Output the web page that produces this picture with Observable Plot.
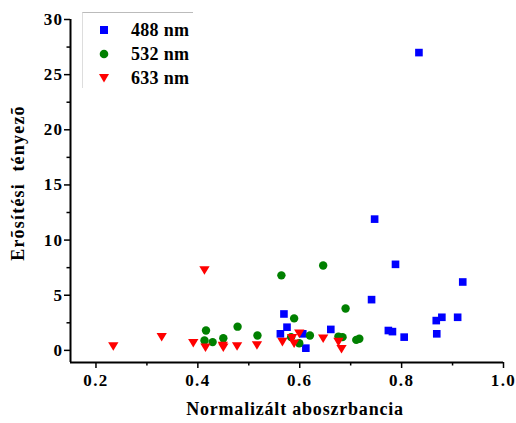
<!DOCTYPE html>
<html>
<head>
<meta charset="utf-8">
<script src="https://cdn.jsdelivr.net/npm/d3@7"></script>
<script src="https://cdn.jsdelivr.net/npm/@observablehq/plot@0.6"></script>
<style>
  html, body { margin: 0; padding: 0; background: #fff; }
  #wrap { position: relative; width: 516px; height: 423px; font-family: "Liberation Serif", "Times New Roman", serif; }
  #wrap svg g[aria-label="x-axis tick label"] text,
  #wrap svg g[aria-label="y-axis tick label"] text { letter-spacing: 1.4px; }
  #wrap svg g[aria-label="text"] text.xl { letter-spacing: 0.8px; }
  #wrap svg g[aria-label="text"] text.yl { letter-spacing: 1.2px; }
  #legend { position: absolute; left: 82px; top: 12px; width: 111px; height: 76px;
            border-top: 1px solid #bbb; border-left: 1px solid #ddd; box-sizing: border-box; }
  .li { position: absolute; left: 0; height: 24px; display: flex; align-items: center; }
  .li svg { position: absolute; left: 16px; }
  .li span { position: absolute; left: 48px; font-weight: bold; font-size: 18px; white-space: nowrap; letter-spacing: 0.3px; }
</style>
</head>
<body>
<div id="wrap"></div>
<script>
// ---- data ----
const seriesNames = ["488 nm", "532 nm", "633 nm"];
const seriesColors = ["#0000ff", "#008000", "#ff0000"];

const x488 = [0.562, 0.569, 0.575, 0.606, 0.612, 0.661, 0.741, 0.747, 0.774, 0.782, 0.788, 0.805, 0.834, 0.868, 0.869, 0.879, 0.910, 0.920];
const y488 = [1.5, 3.3, 2.1, 1.5, 0.2, 1.9, 4.6, 11.9, 1.8, 1.7, 7.8, 1.2, 27.0, 2.7, 1.5, 3.0, 3.0, 6.2];

const x532 = [0.413, 0.416, 0.429, 0.450, 0.478, 0.517, 0.564, 0.583, 0.589, 0.599, 0.620, 0.646, 0.676, 0.684, 0.690, 0.711, 0.717];
const y532 = [0.9, 1.8, 0.75, 1.1, 2.15, 1.35, 6.8, 1.2, 2.9, 0.65, 1.35, 7.7, 1.25, 1.2, 3.8, 0.95, 1.05];

const x633 = [0.234, 0.329, 0.391, 0.413, 0.415, 0.449, 0.450, 0.477, 0.516, 0.566, 0.585, 0.589, 0.599, 0.646, 0.676, 0.682];
const y633 = [0.4, 1.25, 0.7, 7.3, 0.3, 0.45, 0.3, 0.4, 0.5, 0.8, 1.15, 0.65, 1.55, 1.1, 0.8, 0.15];

const xDomain = [0.15, 1.0];
const yDomain = [-1.1, 30];
const xTicks = [0.2, 0.4, 0.6, 0.8, 1.0];
const xMinorTicks = [0.3, 0.5, 0.7, 0.9];
const yTicks = [0, 5, 10, 15, 20, 25, 30];
const yMinorTicks = [2.5, 7.5, 12.5, 17.5, 22.5, 27.5];
const xLabel = "Normalizált aboszrbancia";
const yLabel = "Erõsítési  tényezõ";

// ---- build ----
const toRows = (xs, ys) => xs.map((x, i) => ({x, y: ys[i]}));
const d488 = toRows(x488, y488);
const d532 = toRows(x532, y532);
const d633 = toRows(x633, y633);

const triangleDown = {
  draw(context, size) {
    const r = Math.sqrt(size / Math.PI);
    context.moveTo(-1.12 * r, -0.8 * r);
    context.lineTo(1.12 * r, -0.8 * r);
    context.lineTo(0, 1.05 * r);
    context.closePath();
  }
};

const font = {fontFamily: "Liberation Serif, Times New Roman, serif", fontWeight: "bold", fontSize: "17px"};

const chart = Plot.plot({
  width: 516,
  height: 423,
  marginLeft: 70,
  marginRight: 13,
  marginTop: 19,
  marginBottom: 61,
  style: {...font, background: "white", color: "black"},
  x: {domain: xDomain},
  y: {domain: yDomain},
  marks: [
    Plot.axisX({ticks: xTicks, tickFormat: d3.format(".1f"), tickSize: 6, tickPadding: 5, strokeWidth: 1.5, label: null, fontSize: 17}),
    Plot.axisX({ticks: xMinorTicks, tickFormat: () => "", tickSize: 3.5, strokeWidth: 1.5, label: null}),
    Plot.axisY({ticks: yTicks, tickSize: 6, tickPadding: 1, strokeWidth: 1.5, label: null, fontSize: 17}),
    Plot.axisY({ticks: yMinorTicks, tickFormat: () => "", tickSize: 3.5, strokeWidth: 1.5, label: null}),
    Plot.ruleX([xDomain[0]], {stroke: "black", strokeWidth: 2}),
    Plot.ruleY([yDomain[0]], {stroke: "black", strokeWidth: 2}),
    Plot.dot(d488, {x: "x", y: "y", symbol: "square", r: 4.3, fill: seriesColors[0], stroke: "none"}),
    Plot.dot(d532, {x: "x", y: "y", symbol: "circle", r: 4.2, fill: seriesColors[1], stroke: "none"}),
    Plot.dot(d633, {x: "x", y: "y", symbol: triangleDown, r: 4.6, fill: seriesColors[2], stroke: "none"}),
    Plot.text([xLabel], {frameAnchor: "bottom", textAnchor: "middle", dx: 8, dy: 52, fontSize: 18, fontWeight: "bold"}),
    Plot.text([yLabel], {frameAnchor: "left", textAnchor: "middle", rotate: -90, dx: -52, dy: -8, fontSize: 18, fontWeight: "bold"})
  ]
});

// tag the two title texts for spacing
const titleTexts = chart.querySelectorAll('g[aria-label="text"] text');
titleTexts.forEach(t => {
  if (t.textContent === xLabel) t.classList.add("xl");
  if (t.textContent === yLabel) t.classList.add("yl");
});

const wrap = document.getElementById("wrap");
wrap.appendChild(chart);

// legend
const legend = document.createElement("div");
legend.id = "legend";
const shapes = [
  (c) => `<rect x="1" y="1" width="8" height="8" fill="${c}"/>`,
  (c) => `<circle cx="5" cy="5" r="4.3" fill="${c}"/>`,
  (c) => `<path d="M0,1 L10,1 L5,9.5 Z" fill="${c}"/>`
];
seriesNames.forEach((name, i) => {
  const li = document.createElement("div");
  li.className = "li";
  li.style.top = (5 + i * 24) + "px";
  li.style.width = "110px";
  li.innerHTML = `<svg width="10" height="10" viewBox="0 0 10 10" style="top:7px">${shapes[i](seriesColors[i])}</svg><span>${name}</span>`;
  legend.appendChild(li);
});
wrap.appendChild(legend);
</script>
</body>
</html>
